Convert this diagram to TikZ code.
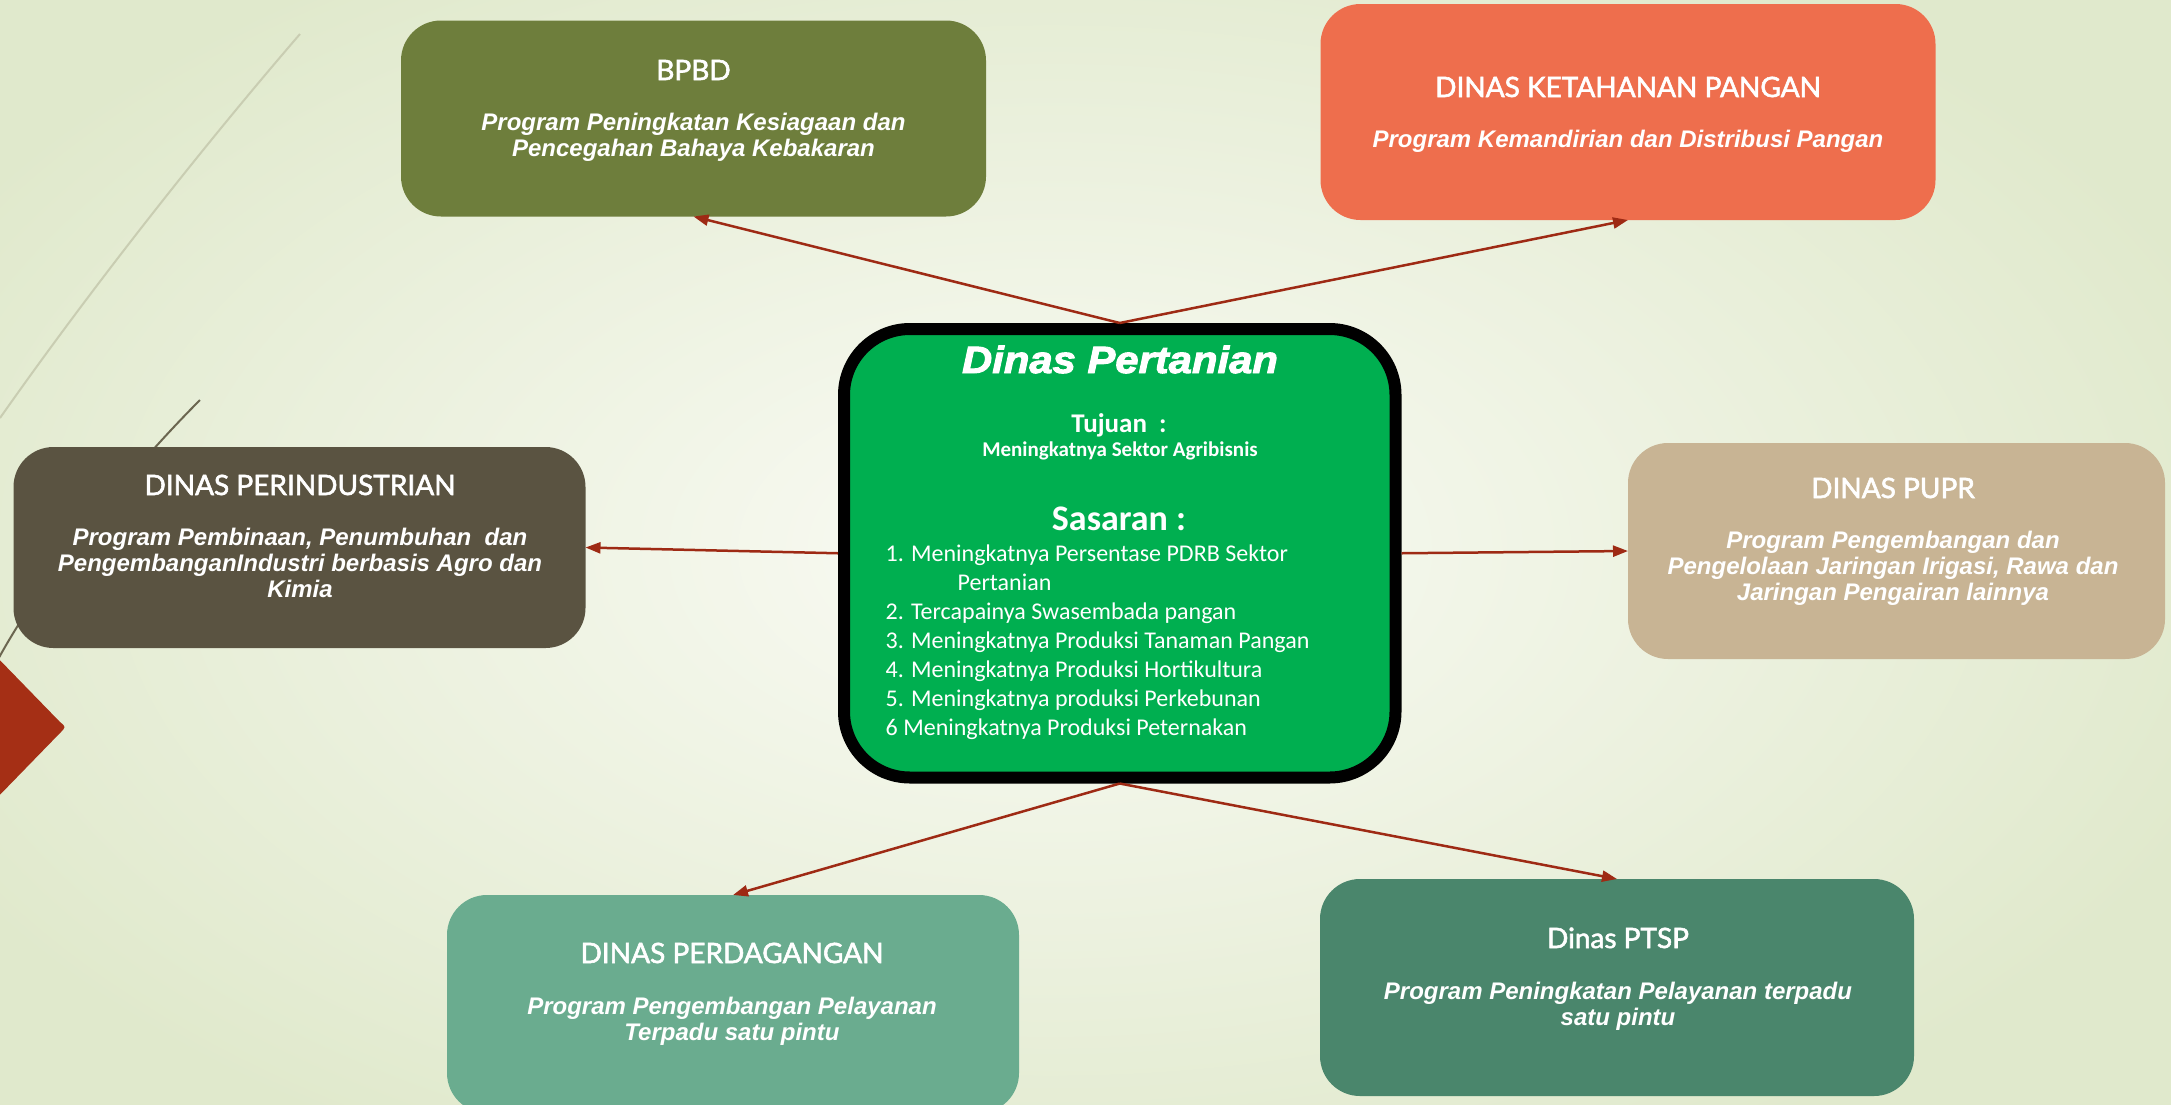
\documentclass[tikz,border=0pt]{standalone}
\usepackage{fontspec}
\setmainfont{Carlito}
\newfontfamily\titlefont{Lato}[FakeBold=2]
\newfontfamily\progfont{Liberation Sans}
\newfontfamily\blackfont{Liberation Sans}[BoldItalicFeatures={FakeBold=2.5,FakeStretch=1.1}]
\usetikzlibrary{arrows.meta}
\definecolor{bgin}{HTML}{FAFBF5}
\definecolor{bgout}{HTML}{E0E9CC}
\definecolor{bpbdc}{HTML}{6E7E3C}
\definecolor{ketc}{HTML}{EE6E4D}
\definecolor{indc}{HTML}{5A5341}
\definecolor{puprc}{HTML}{C8B494}
\definecolor{dagc}{HTML}{6AAC8F}
\definecolor{ptspc}{HTML}{4A866C}
\definecolor{greenc}{HTML}{00AF50}
\definecolor{arrowc}{HTML}{9E2A14}
\definecolor{redc}{HTML}{A52F15}
\definecolor{decoa}{HTML}{C9CDB2}
\definecolor{decob}{HTML}{6B6650}
\begin{document}
\begin{tikzpicture}[x=1pt,y=-1pt,
  box/.style={rounded corners=40pt, inner sep=0pt, outer sep=0pt, draw=none},
  ttl/.style={font=\titlefont\fontsize{28}{32}\selectfont, text=white, anchor=base, inner sep=0pt},
  prog/.style={font=\progfont\bfseries\itshape\fontsize{24}{26}\selectfont, text=white, align=center, anchor=base, inner sep=0pt},
  ctext/.style={text=white, anchor=base, inner sep=0pt},
  link/.style={draw=arrowc, line width=2.5pt, -{Triangle[length=15pt,width=11pt]}}
]
\clip (0,0) rectangle (2171,1104);
\shade[inner color=bgin, outer color=bgout] (-200,-150) rectangle (2300,1250);

% decorations
\draw[decoa, line width=2pt] (300,34) .. controls (200,150) and (90,290) .. (0,418);
\draw[decob, line width=2pt] (200,400) .. controls (130,470) and (40,580) .. (-5,665);
\fill[redc] (-10,650) -- (60,722) .. controls (66,727) .. (60,733) -- (-10,805) -- cycle;

% boxes
\node[box, fill=bpbdc, minimum width=585pt, minimum height=196pt] (bpbd) at (693.5,118.5) {};
\node[box, fill=ketc, minimum width=615pt, minimum height=216pt] (ket) at (1628,112) {};
\node[box, fill=indc, minimum width=572pt, minimum height=201pt] (ind) at (299.5,547.5) {};
\node[box, fill=puprc, minimum width=537pt, minimum height=216pt] (pupr) at (1896.5,551) {};
\node[box, fill=dagc, minimum width=572pt, minimum height=218pt] (dag) at (733,1004) {};
\node[box, fill=ptspc, minimum width=594pt, minimum height=217pt] (ptsp) at (1617,987.5) {};

\node[draw=black, line width=12pt, fill=greenc, rounded corners=66pt, inner sep=0pt,
      minimum width=551.5pt, minimum height=448.5pt] (pert) at (1119.75,553.25) {};

% titles and programs (multi-line nodes are placed at the baseline of their last line)
\node[ttl] (bpbdT) at (693.5,80) {BPBD};
\node[prog] (bpbdP) at (693.5,156) {Program Peningkatan Kesiagaan dan\\Pencegahan Bahaya Kebakaran};

\node[ttl] (ketT) at (1628,97) {DINAS KETAHANAN PANGAN};
\node[prog] (ketP) at (1628,147) {Program Kemandirian dan Distribusi Pangan};

\node[ttl] (indT) at (300,495) {DINAS PERINDUSTRIAN};
\node[prog] (indP) at (300,597) {Program Pembinaan, Penumbuhan\ \ dan\\PengembanganIndustri berbasis Agro dan\\Kimia};

\node[ttl] (puprT) at (1893,498) {DINAS PUPR};
\node[prog] (puprP) at (1893,600) {Program Pengembangan dan\\Pengelolaan Jaringan Irigasi, Rawa dan\\Jaringan Pengairan lainnya};

\node[ttl] (dagT) at (732,963) {DINAS PERDAGANGAN};
\node[prog] (dagP) at (732,1040) {Program Pengembangan Pelayanan\\Terpadu satu pintu};

\node[ttl] (ptspT) at (1618,948) {Dinas PTSP};
\node[prog] (ptspP) at (1618,1025) {Program Peningkatan Pelayanan terpadu\\satu pintu};

% center texts
\node[ctext, font=\blackfont\bfseries\itshape\fontsize{38}{44}\selectfont] (pertT) at (1120,373) {Dinas Pertanian};
\node[ctext, font=\bfseries\fontsize{27}{30}\selectfont] (tuj) at (1119,432) {Tujuan\ \ :};
\node[ctext, font=\bfseries\fontsize{21}{24}\selectfont] (tujT) at (1120,456.7) {Meningkatnya Sektor Agribisnis};
\node[ctext, font=\bfseries\fontsize{36}{40}\selectfont] (sas) at (1119,530) {Sasaran :};
\node[ctext, anchor=base west, align=left, font=\fontsize{24}{29}\selectfont] (sasL) at (885.5,735)
 {1. Meningkatnya Persentase PDRB Sektor\\\hspace*{72pt}Pertanian\\2. Tercapainya Swasembada pangan\\3. Meningkatnya Produksi Tanaman Pangan\\4. Meningkatnya Produksi Hortikultura\\5. Meningkatnya produksi Perkebunan\\6 Meningkatnya Produksi Peternakan};

% connectors
\draw[link] (pert.north) -- (bpbd.south);
\draw[link] (pert.north) -- (ket.south);
\draw[link] (pert.west) -- (ind.east);
\draw[link] (pert.east) -- (pupr.west);
\draw[link] (pert.south) -- (dag.north);
\draw[link] (pert.south) -- (ptsp.north);
\end{tikzpicture}
\end{document}
